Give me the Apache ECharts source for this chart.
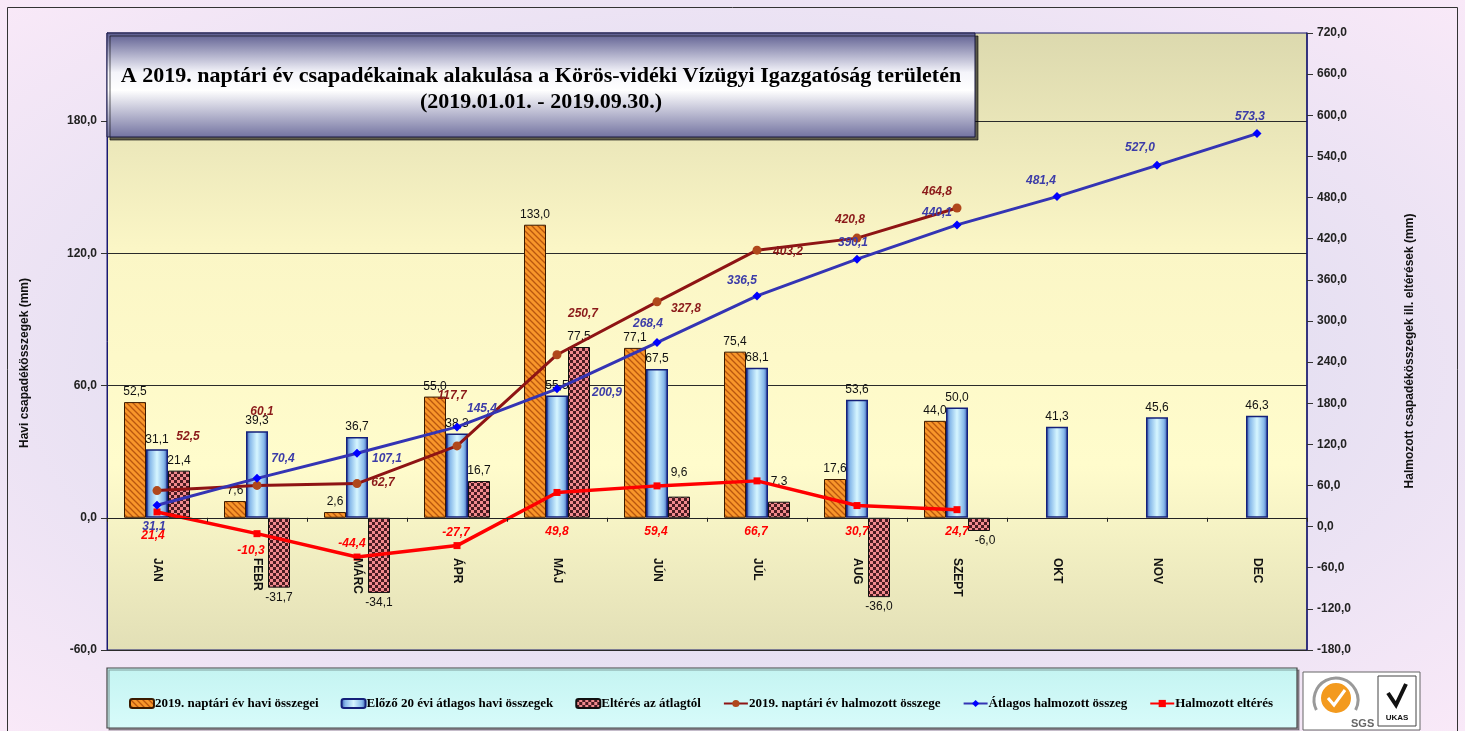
<!DOCTYPE html>
<html>
<head>
<meta charset="utf-8">
<script src="https://cdn.jsdelivr.net/npm/echarts@6/dist/echarts.min.js"></script>
<style>
  html, body { margin: 0; padding: 0; }
  #chart {
    width: 1465px; height: 731px;
    background: radial-gradient(ellipse at 50% 50%, #dcdcf0 0%, #e6e0f2 55%, #f9e9f8 100%);
  }
</style>
</head>
<body>
<div id="chart"></div>
<script>
// havi adatok
const months = ['JAN', 'FEBR', 'MÁRC', 'ÁPR', 'MÁJ', 'JÚN', 'JÚL', 'AUG', 'SZEPT', 'OKT', 'NOV', 'DEC'];
const monthly2019 = [52.5, 7.6, 2.6, 55.0, 133.0, 77.1, 75.4, 17.6, 44.0, null, null, null];
const monthlyAvg = [31.1, 39.3, 36.7, 38.3, 55.5, 67.5, 68.1, 53.6, 50.0, 41.3, 45.6, 46.3];
const deviation = [21.4, -31.7, -34.1, 16.7, 77.5, 9.6, 7.3, -36.0, -6.0, null, null, null];
// halmozott adatok
const cum2019 = [52.5, 60.1, 62.7, 117.7, 250.7, 327.8, 403.2, 420.8, 464.8, null, null, null];
const cumAvg = [31.1, 70.4, 107.1, 145.4, 200.9, 268.4, 336.5, 390.1, 440.1, 481.4, 527.0, 573.3];
const cumDev = [21.4, -10.3, -44.4, -27.7, 49.8, 59.4, 66.7, 30.7, 24.7, null, null, null];
// bal tengely beosztás
const leftTicks = [-60, 0, 60, 120, 180];

// feliratok eltolása (mint az Excel-ben kézzel húzva)
const cum2019LabelOffset = [[31, -54], [5, -74], [26, -1], [-5, -50], [26, -41], [29, 7], [31, 2], [-7, -18], [-20, -16]];
const cumAvgLabelOffset = [[-3, 21], [26, -20], [30, 6], [25, -18], [50, 4], [-9, -19], [-15, -15], [-4, -16], [-20, -12], [-16, -16], [-17, -18], [-7, -17]];
const cumDevLabelOffset = [[-4, 24], [-6, 17], [-5, -13], [-1, -13], [0, 39], [-1, 46], [-1, 51], [0, 26], [0, 22]];
const deviationLabelOffset = [[0, 0], [0, 0], [0, 0], [0, 0], [0, 0], [0, -14], [0, -10], [0, 0], [6, 0]];

function fmt(v) {
    return v.toFixed(1).replace('.', ',');
}

// mintázatok
function hatchPattern() {
    const c = document.createElement('canvas');
    c.width = 6; c.height = 6;
    const ctx = c.getContext('2d');
    ctx.fillStyle = '#f8962a';
    ctx.fillRect(0, 0, 6, 6);
    ctx.strokeStyle = '#b9560e';
    ctx.lineWidth = 1.3;
    ctx.beginPath();
    ctx.moveTo(-1, -1); ctx.lineTo(7, 7);
    ctx.moveTo(-4, 2); ctx.lineTo(4, 10);
    ctx.moveTo(2, -4); ctx.lineTo(10, 4);
    ctx.stroke();
    return c;
}
function checkPattern() {
    const c = document.createElement('canvas');
    c.width = 6; c.height = 6;
    const ctx = c.getContext('2d');
    ctx.fillStyle = '#f28a8e';
    ctx.fillRect(0, 0, 6, 6);
    ctx.fillStyle = '#4a1c22';
    ctx.fillRect(0, 0, 3, 3);
    ctx.fillRect(3, 3, 3, 3);
    return c;
}

const blueBarFill = {
    type: 'linear', x: 0, y: 0, x2: 1, y2: 0,
    colorStops: [
        { offset: 0, color: '#2c4aa8' },
        { offset: 0.18, color: '#86b8ea' },
        { offset: 0.5, color: '#d6f6ff' },
        { offset: 0.82, color: '#86b8ea' },
        { offset: 1, color: '#2c4aa8' }
    ]
};

function barData(arr, offsets) {
    return arr.map(function(v, i) {
        if (v === null) return '-';
        const item = { value: v, label: { position: v < 0 ? 'bottom' : 'top' } };
        if (offsets && offsets[i]) item.label.offset = offsets[i];
        return item;
    });
}
function lineData(arr, offsets) {
    return arr.map(function(v, i) {
        if (v === null) return '-';
        return { value: v, label: { offset: offsets[i] } };
    });
}

const chart = echarts.init(document.getElementById('chart'));

const barLabel = {
    show: true,
    color: '#111',
    fontFamily: 'Arial, "Liberation Sans"',
    fontSize: 12,
    distance: 4,
    formatter: function(p) { return fmt(p.value); }
};
function lineLabel(color) {
    return {
        show: true,
        position: 'inside',
        color: color,
        fontFamily: 'Arial, "Liberation Sans"',
        fontSize: 12,
        fontWeight: 'bold',
        fontStyle: 'italic',
        formatter: function(p) { return fmt(p.value); }
    };
}

const option = {
    animation: false,
    grid: {
        left: 107,
        right: 158,
        top: 33,
        bottom: 81,
        show: true,
        borderColor: '#1a1a70',
        borderWidth: 1,
        backgroundColor: {
            type: 'linear', x: 0, y: 0, x2: 0, y2: 1,
            colorStops: [
                { offset: 0, color: '#dcd9ae' },
                { offset: 0.35, color: '#fbf6c6' },
                { offset: 0.7, color: '#fffccc' },
                { offset: 1, color: '#e2dfb6' }
            ]
        }
    },
    legend: {
        left: 124,
        top: 692,
        itemWidth: 24,
        itemHeight: 9,
        itemGap: 22,
        textStyle: {
            fontFamily: '"Liberation Serif", "Times New Roman", serif',
            fontWeight: 'bold',
            fontSize: 13,
            color: '#000',
            padding: [0, 0, 0, -4]
        },
        data: [
            '2019. naptári év havi összegei',
            'Előző 20 évi átlagos havi összegek',
            'Eltérés az átlagtól',
            '2019. naptári év halmozott összege',
            'Átlagos halmozott összeg',
            'Halmozott eltérés'
        ]
    },
    xAxis: {
        type: 'category',
        data: months,
        z: 10,
        axisLine: { onZero: true, lineStyle: { color: '#222', width: 1 } },
        axisTick: { show: true, length: 4, lineStyle: { color: '#222' } },
        axisLabel: {
            show: true,
            interval: 0,
            hideOverlap: false,
            rotate: -90,
            margin: -92,
            color: '#111',
            fontFamily: 'Arial, "Liberation Sans"',
            fontWeight: 'bold',
            fontSize: 12
        }
    },
    yAxis: [
        {
            type: 'value',
            min: -60,
            max: 220,
            interval: 60,
            axisLine: { show: true, lineStyle: { color: '#1a1a70' } },
            axisTick: { show: true, length: 6, customValues: leftTicks, lineStyle: { color: '#333' } },
            axisLabel: {
                color: '#222',
                fontFamily: 'Arial, "Liberation Sans"',
                fontWeight: 'bold',
                fontSize: 12,
                margin: 10,
                formatter: function(v) { return v % 60 === 0 ? fmt(v) : ''; }
            },
            splitLine: { show: true, lineStyle: { color: '#2a2a2a', width: 1 } }
        },
        {
            type: 'value',
            min: -180,
            max: 720,
            interval: 60,
            position: 'right',
            axisLine: { show: true, lineStyle: { color: '#1a1a70', width: 1.5 } },
            axisTick: { show: true, length: 6, lineStyle: { color: '#333' } },
            axisLabel: {
                color: '#222',
                fontFamily: 'Arial, "Liberation Sans"',
                fontWeight: 'bold',
                fontSize: 12,
                margin: 10,
                formatter: function(v) { return fmt(v); }
            },
            splitLine: { show: false }
        }
    ],
    series: [
        {
            name: '2019. naptári év havi összegei',
            type: 'bar',
            barWidth: 22,
            barGap: '0%',
            data: barData(monthly2019),
            itemStyle: { color: { image: hatchPattern(), repeat: 'repeat' }, borderColor: '#3a1a00', borderWidth: 1 },
            label: barLabel,
            z: 2
        },
        {
            name: 'Előző 20 évi átlagos havi összegek',
            type: 'bar',
            barWidth: 22,
            barGap: '0%',
            data: barData(monthlyAvg),
            itemStyle: { color: blueBarFill, borderColor: '#14207a', borderWidth: 1.5 },
            label: barLabel,
            z: 2
        },
        {
            name: 'Eltérés az átlagtól',
            type: 'bar',
            barWidth: 22,
            barGap: '0%',
            data: barData(deviation, deviationLabelOffset),
            itemStyle: { color: { image: checkPattern(), repeat: 'repeat' }, borderColor: '#111', borderWidth: 1 },
            label: barLabel,
            z: 2
        },
        {
            name: '2019. naptári év halmozott összege',
            type: 'line',
            yAxisIndex: 1,
            data: lineData(cum2019, cum2019LabelOffset),
            lineStyle: { color: '#8e1414', width: 3 },
            itemStyle: { color: '#b0481c' },
            symbol: 'circle',
            symbolSize: 9,
            label: lineLabel('#8b1a1a'),
            z: 5
        },
        {
            name: 'Átlagos halmozott összeg',
            type: 'line',
            yAxisIndex: 1,
            data: lineData(cumAvg, cumAvgLabelOffset),
            lineStyle: { color: '#3434b4', width: 3 },
            itemStyle: { color: '#0000ff' },
            symbol: 'diamond',
            symbolSize: 9,
            label: lineLabel('#3c3ca8'),
            z: 6
        },
        {
            name: 'Halmozott eltérés',
            type: 'line',
            yAxisIndex: 1,
            data: lineData(cumDev, cumDevLabelOffset),
            lineStyle: { color: '#ff0000', width: 3.5 },
            itemStyle: { color: '#ff0000' },
            symbol: 'rect',
            symbolSize: 7,
            label: lineLabel('#ff0000'),
            z: 5
        }
    ],
    graphic: [
        // keret
        {
            type: 'rect', z: 0, silent: true,
            shape: { x: 7.5, y: 7.5, width: 1450, height: 740 },
            style: { fill: 'none', stroke: '#333', lineWidth: 1 }
        },
        // cím doboz
        {
            type: 'rect', z: 100,
            shape: { x: 107, y: 33, width: 868, height: 104 },
            style: {
                fill: {
                    type: 'linear', x: 0, y: 0, x2: 0, y2: 1,
                    colorStops: [
                        { offset: 0, color: '#5a5a8e' },
                        { offset: 0.38, color: '#f4f4fa' },
                        { offset: 0.55, color: '#ffffff' },
                        { offset: 1, color: '#7272a0' }
                    ]
                },
                stroke: '#1a1a40',
                lineWidth: 1,
                shadowColor: 'rgba(0,0,0,0.6)',
                shadowOffsetX: 3,
                shadowOffsetY: 3
            }
        },
        {
            type: 'text', z: 101, x: 541, y: 76,
            style: {
                text: 'A 2019. naptári év csapadékainak alakulása a Körös-vidéki Vízügyi Igazgatóság területén',
                fill: '#000',
                font: 'bold 22px "Liberation Serif", "Times New Roman", serif',
                align: 'center', verticalAlign: 'middle'
            }
        },
        {
            type: 'text', z: 101, x: 541, y: 102,
            style: {
                text: '(2019.01.01. - 2019.09.30.)',
                fill: '#000',
                font: 'bold 22px "Liberation Serif", "Times New Roman", serif',
                align: 'center', verticalAlign: 'middle'
            }
        },
        // tengelycímek
        {
            type: 'text', z: 10, x: 25, y: 363, rotation: Math.PI / 2,
            style: {
                text: 'Havi csapadékösszegek (mm)',
                fill: '#111',
                font: 'bold 12px Arial, "Liberation Sans"',
                align: 'center', verticalAlign: 'middle'
            }
        },
        {
            type: 'text', z: 10, x: 1410, y: 351, rotation: Math.PI / 2,
            style: {
                text: 'Halmozott csapadékösszegek ill. eltérések (mm)',
                fill: '#111',
                font: 'bold 12px Arial, "Liberation Sans"',
                align: 'center', verticalAlign: 'middle'
            }
        },
        // jelmagyarázat doboz
        {
            type: 'rect', z: 1,
            shape: { x: 107, y: 668, width: 1190, height: 60 },
            style: {
                fill: {
                    type: 'linear', x: 0, y: 0, x2: 0, y2: 1,
                    colorStops: [
                        { offset: 0, color: '#c4f4f2' },
                        { offset: 1, color: '#d8fbfa' }
                    ]
                },
                stroke: '#444',
                lineWidth: 1.2,
                shadowColor: 'rgba(0,0,0,0.35)',
                shadowOffsetX: 2,
                shadowOffsetY: 2
            }
        },
        // logók
        {
            type: 'rect', z: 1,
            shape: { x: 1303, y: 672, width: 117, height: 58 },
            style: { fill: '#fff', stroke: '#666', lineWidth: 1 }
        },
        {
            type: 'circle', z: 2,
            shape: { cx: 1336, cy: 698, r: 16 },
            style: { fill: '#f39a1e', stroke: '#fff', lineWidth: 2 }
        },
        {
            type: 'polyline', z: 3,
            shape: { points: [[1328, 698], [1334, 705], [1345, 690]] },
            style: { stroke: '#fff', lineWidth: 3, fill: 'none' }
        },
        {
            type: 'arc', z: 2,
            shape: { cx: 1336, cy: 700, r: 22, startAngle: Math.PI * 0.85, endAngle: Math.PI * 2.15 },
            style: { stroke: '#999', lineWidth: 3, fill: 'none' }
        },
        {
            type: 'text', z: 3, x: 1351, y: 718,
            style: { text: 'SGS', fill: '#666', font: 'bold 11px Arial, "Liberation Sans"' }
        },
        {
            type: 'rect', z: 2,
            shape: { x: 1378, y: 676, width: 38, height: 50 },
            style: { fill: '#fff', stroke: '#444', lineWidth: 1 }
        },
        {
            type: 'polyline', z: 3,
            shape: { points: [[1388, 693], [1396, 705], [1406, 684]] },
            style: { stroke: '#111', lineWidth: 4, fill: 'none' }
        },
        {
            type: 'text', z: 3, x: 1397, y: 714,
            style: { text: 'UKAS', fill: '#111', font: 'bold 8px Arial, "Liberation Sans"', align: 'center' }
        }
    ]
};

chart.setOption(option);

window.addEventListener('resize', function() {
    chart.resize();
});
</script>
</body>
</html>
